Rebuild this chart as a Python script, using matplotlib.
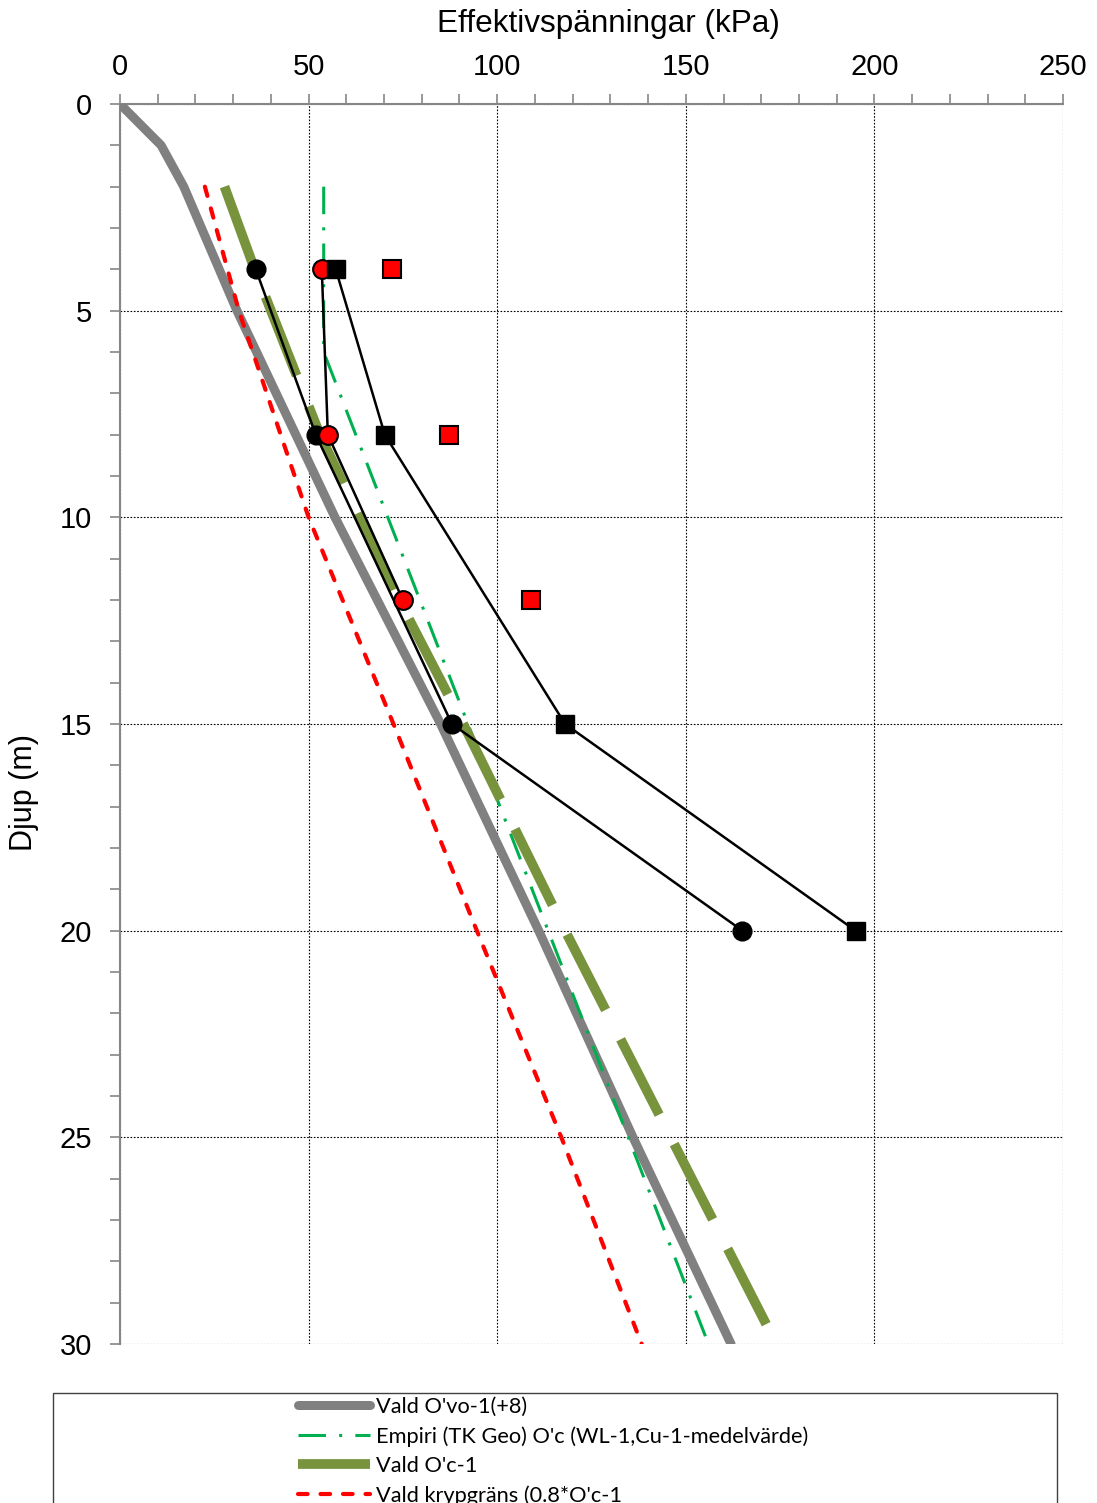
import numpy as np
import matplotlib.pyplot as plt
from matplotlib.patches import Rectangle
from matplotlib.ticker import MultipleLocator

# depth (m) and effective stress (kPa)
vo_depth = [0, 1, 2, 5, 10, 15, 20, 25, 30]
vo_kpa = [0, 10.9, 16.9, 31.0, 57.0, 85.0, 111.0, 136.0, 162.0]

emp_depth = [2, 6, 30]
emp_kpa = [54, 54, 156]

pc_depth = [2, 4, 8, 12, 15, 20, 25, 30]
pc_kpa = [27.7, 35.7, 53.0, 74.0, 91.0, 118.0, 146.0, 174.0]

kryp_depth = [2, 5, 10, 15, 20, 25, 30]
kryp_kpa = [22.5, 31.5, 50.0, 72.5, 94.6, 117.0, 138.3]

circ_black_depth = [4, 8, 15, 20]
circ_black_kpa = [36.0, 51.9, 88.0, 165.0]
circ_red_depth = [4, 8, 12]
circ_red_kpa = [53.5, 55.1, 75.0]
sq_black_depth = [4, 8, 15, 20]
sq_black_kpa = [57.2, 70.2, 118.0, 195.0]
sq_red_depth = [4, 8, 12]
sq_red_kpa = [72.1, 87.1, 109.0]

labels = ["Vald O'vo-1(+8)",
          "Empiri (TK Geo) O'c (WL-1,Cu-1-medelvärde)",
          "Vald O'c-1",
          "Vald krypgräns (0.8*O'c-1"]

plt.rcParams['font.family'] = ['Liberation Sans', 'DejaVu Sans']

W, H = 1097, 1503
fig = plt.figure(figsize=(W / 100, H / 100), dpi=100)
ax = fig.add_axes([120 / W, 1 - 1344 / H, 943 / W, 1240 / H])

spine_c = '#868686'
l1, = ax.plot(vo_kpa, vo_depth, color='#808080', lw=6.5,
              solid_capstyle='round', zorder=3)
l2, = ax.plot(emp_kpa, emp_depth, color='#00B050', lw=2.2,
              dashes=(9, 4.3, 1, 4.3), zorder=3)
l3, = ax.plot(pc_kpa, pc_depth, color='#77933C', lw=7,
              dashes=(8.7, 3.4), zorder=3)
l4, = ax.plot(kryp_kpa, kryp_depth, color='#FF0000', lw=3,
              dashes=(2.3, 3.1), dash_capstyle='round', zorder=3)

ax.plot(circ_black_kpa, circ_black_depth, color='black', lw=1.8, marker='o',
        ms=13.5, mfc='black', mec='black', zorder=4)
ax.plot(circ_red_kpa, circ_red_depth, color='black', lw=1.8, marker='o',
        ms=13.5, mfc='#FF0000', mec='black', mew=1.5, zorder=5)
ax.plot(sq_black_kpa, sq_black_depth, color='black', lw=1.8, marker='s',
        ms=12.5, mfc='black', mec='black', zorder=6)
ax.plot(sq_red_kpa, sq_red_depth, ls='none', marker='s',
        ms=13, mfc='#FF0000', mec='black', mew=1.5, zorder=6)

ax.set_xlim(0, 250)
ax.set_ylim(30, 0)
ax.xaxis.tick_top()
ax.xaxis.set_label_position('top')
ax.xaxis.set_major_locator(MultipleLocator(50))
ax.xaxis.set_minor_locator(MultipleLocator(10))
ax.yaxis.set_major_locator(MultipleLocator(5))
ax.yaxis.set_minor_locator(MultipleLocator(1))
ax.tick_params(which='both', direction='out', length=7, width=1.2,
               color=spine_c, labelsize=21)
ax.tick_params(axis='x', which='both', top=True, bottom=False, pad=9.5)
ax.tick_params(axis='y', pad=13)
ax.grid(which='major', color='black', ls=(0, (1.5, 1.5)), lw=0.8)

for s in ['right', 'bottom']:
    ax.spines[s].set_visible(False)
for s in ['top', 'left']:
    ax.spines[s].set_color(spine_c)
    ax.spines[s].set_linewidth(1.5)

ax.set_xlabel('Effektivspänningar (kPa)', fontsize=22.7, labelpad=15)
ax.xaxis.label.set_x(0.518)
ax.set_ylabel('Djup (m)', fontsize=22)
ax.yaxis.set_label_coords(-0.086, 0.445)

# legend box runs past the bottom of the picture
fig.patches.append(Rectangle((53 / W, -0.02), 1004 / W, 1 - 1393 / H + 0.02,
                             transform=fig.transFigure, fill=False,
                             ec='#404040', lw=1.0))
leg = fig.legend([l1, l2, l3, l4], labels, loc='upper left',
                 bbox_to_anchor=(298 / W, 1 - 1397 / H), frameon=False,
                 prop={'family': 'Lato', 'size': 15.7}, handlelength=3.3,
                 handletextpad=0.3, labelspacing=0.42, borderpad=0,
                 borderaxespad=0)

fig.savefig('out.png', dpi=100)
